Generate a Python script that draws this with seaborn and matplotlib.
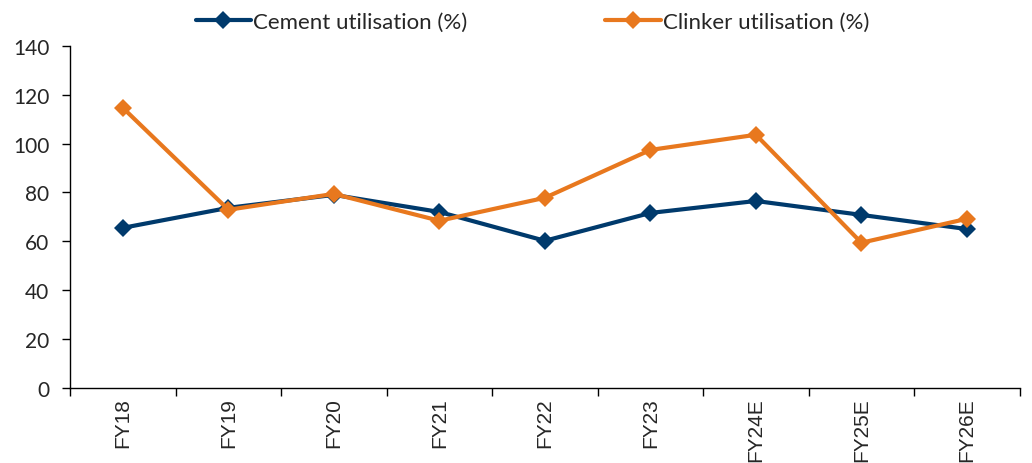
import pandas as pd
import numpy as np
import matplotlib
matplotlib.use('Agg')
import matplotlib.pyplot as plt
import seaborn as sns

# Data
years = ['FY18', 'FY19', 'FY20', 'FY21', 'FY22', 'FY23', 'FY24E', 'FY25E', 'FY26E']
cement = [65.5, 73.7, 79.0, 72.0, 60.2, 71.6, 76.5, 70.8, 65.0]
clinker = [114.6, 72.9, 79.4, 68.4, 77.8, 97.4, 103.6, 59.4, 69.2]
series_names = ['Cement utilisation (%)', 'Clinker utilisation (%)']
colors = ['#003a6c', '#e8781e']

df = pd.DataFrame({
    'year': years * 2,
    'value': cement + clinker,
    'series': [series_names[0]] * len(years) + [series_names[1]] * len(years),
})

sns.set_style('white')
plt.rcParams['font.family'] = ['Lato', 'DejaVu Sans']

fig = plt.figure(figsize=(10.32, 4.64), dpi=100)
ax = fig.add_axes([0.068, 0.162, 0.92, 0.737])

sns.lineplot(data=df, x='year', y='value', hue='series', style='series',
             markers=['D', 'D'], dashes=False, palette=colors,
             linewidth=3, markersize=9, markeredgewidth=0, ax=ax, legend=False)

ax.set_xlim(-0.5, len(years) - 0.5)
ax.set_ylim(0, 140)
ax.set_yticks(np.arange(0, 141, 20))
ax.set_xlabel('')
ax.set_ylabel('')

# x ticks between categories
ax.set_xticks(range(len(years)))
ax.set_xticklabels(years, rotation=90, fontfamily='Liberation Sans', fontsize=15)
ax.set_xticks(np.arange(-0.5, len(years)), minor=True)
ax.tick_params(axis='x', which='major', length=0, pad=7)
ax.tick_params(axis='x', which='minor', length=6, width=1, color='black', direction='out', bottom=True)
ax.tick_params(axis='y', length=6, width=1, color='black', direction='out', left=True,
               labelsize=15, pad=9)

for side in ['top', 'right']:
    ax.spines[side].set_visible(False)
for side in ['left', 'bottom']:
    ax.spines[side].set_color('black')
    ax.spines[side].set_linewidth(1)

handles = [plt.Line2D([], [], color=c, marker='D', linewidth=3, markersize=9,
                      markeredgewidth=0) for c in colors]
fig.legend(handles, series_names, loc='upper center', bbox_to_anchor=(0.516, 1.015),
           ncol=2, frameon=False, fontsize=16, columnspacing=6.2, handlelength=2.5,
           handletextpad=0.1)

fig.savefig('out.png', dpi=100)
